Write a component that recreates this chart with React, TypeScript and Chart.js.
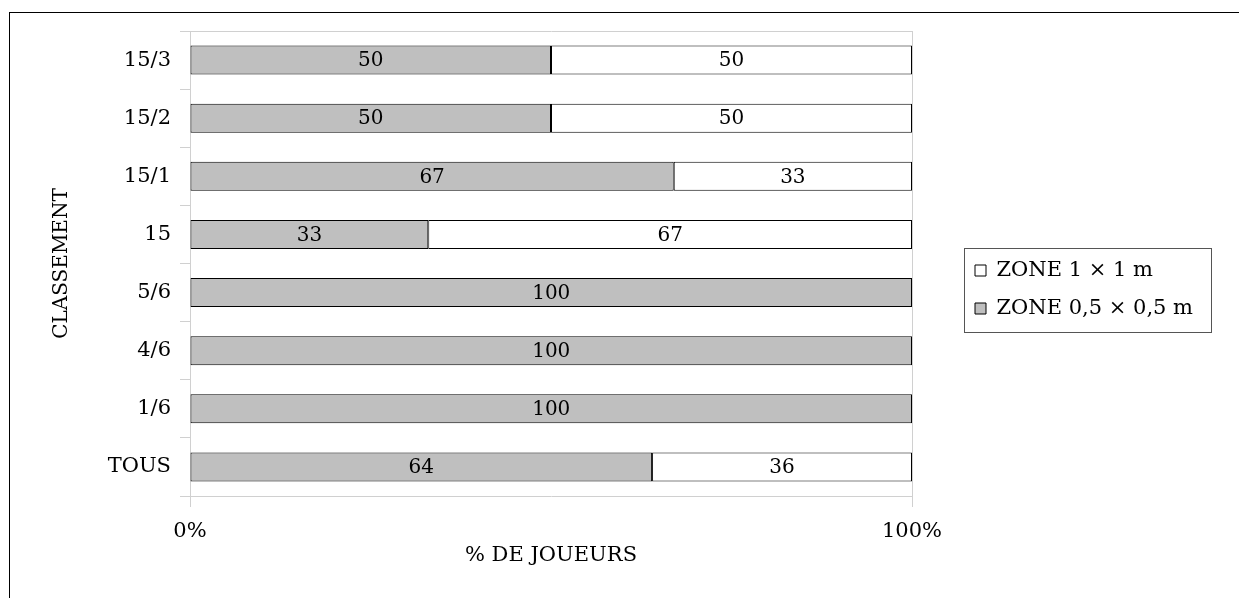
import React, { useEffect, useRef } from 'react';
import { Chart, registerables } from 'chart.js';

Chart.register(...registerables);

const categories = ['15/3', '15/2', '15/1', '15', '5/6', '4/6', '1/6', 'TOUS'];
const smallZoneValues = [50, 50, 67, 33, 100, 100, 100, 64];
const largeZoneValues = [50, 50, 33, 67, 0, 0, 0, 36];
const seriesNames = ['ZONE 0,5 × 0,5 m', 'ZONE 1 × 1 m'];
const xTickValues = [0, 100];
const xTitle = '% DE JOUEURS';
const yTitle = 'CLASSEMENT';

const FONT = "'DejaVu Serif', serif";
const GRID = '#d0d0d0';
const PLOT_RIGHT = 912;

const barLabels = {
  id: 'barLabels',
  afterDatasetsDraw(chart: any) {
    const ctx = chart.ctx;
    ctx.save();
    ctx.font = `20px ${FONT}`;
    ctx.fillStyle = '#000';
    ctx.textAlign = 'center';
    ctx.textBaseline = 'middle';
    chart.data.datasets.forEach((ds: any, di: number) => {
      const meta = chart.getDatasetMeta(di);
      meta.data.forEach((el: any, i: number) => {
        const v = ds.data[i];
        if (!v) return;
        const { x, base, y } = el.getProps(['x', 'base', 'y'], true);
        ctx.fillText(String(v), (x + base) / 2, y + 1);
      });
    });
    ctx.restore();
  },
};

const legendPlace = {
  id: 'legendPlace',
  afterLayout(chart: any) {
    const l = chart.legend;
    if (!l) return;
    const pad = l.options.labels.padding;
    const w = l.width;
    const h = l.height;
    l.left = 975 - pad;
    l.right = l.left + w;
    l.top = 260 - pad;
    l.bottom = l.top + h;
  },
  afterDraw(chart: any) {
    const ctx = chart.ctx;
    ctx.save();
    ctx.strokeStyle = '#555';
    ctx.lineWidth = 1;
    ctx.strokeRect(964.5, 248.5, 247, 84);
    ctx.restore();
  },
};

export default function App() {
  const ref = useRef<HTMLCanvasElement>(null);

  useEffect(() => {
    if (!ref.current) return;
    const chart = new Chart(ref.current, {
      type: 'bar',
      data: {
        labels: categories,
        datasets: [
          {
            label: seriesNames[0],
            data: smallZoneValues,
            backgroundColor: '#bfbfbf',
            borderColor: '#000',
            borderWidth: 1,
            borderSkipped: false,
            barPercentage: 0.5,
            categoryPercentage: 1,
          },
          {
            label: seriesNames[1],
            data: largeZoneValues,
            backgroundColor: '#ffffff',
            borderColor: '#000',
            borderWidth: 1,
            borderSkipped: false,
            barPercentage: 0.5,
            categoryPercentage: 1,
          },
        ],
      },
      options: {
        indexAxis: 'y',
        responsive: false,
        animation: false,
        layout: { padding: { left: 0, top: 31, right: 60, bottom: 0 } },
        plugins: {
          tooltip: { enabled: false },
          legend: {
            display: true,
            position: 'right',
            align: 'start',
            reverse: true,
            labels: {
              boxWidth: 11,
              boxHeight: 11,
              padding: 17,
              color: '#000',
              font: { family: FONT, size: 21 },
            },
          },
        },
        scales: {
          x: {
            stacked: true,
            min: 0,
            max: 100,
            afterBuildTicks(scale: any) {
              scale.ticks = xTickValues.map((v) => ({ value: v }));
            },
            afterFit(scale: any) {
              scale.height = 102;
            },
            grid: { color: GRID, tickLength: 11, lineWidth: 1 },
            border: { color: GRID },
            ticks: {
              color: '#000',
              padding: 12,
              font: { family: FONT, size: 21 },
              callback: (v: any) => `${v}%`,
            },
            title: {
              display: true,
              text: xTitle,
              color: '#000',
              font: { family: FONT, size: 21 },
              padding: { top: 0, bottom: 30 },
            },
          },
          y: {
            stacked: true,
            afterFit(scale: any) {
              scale.width = 190;
            },
            grid: {
              offset: true,
              drawOnChartArea: true,
              color: (c: any) => (c.index === 0 || c.index === categories.length ? GRID : 'rgba(0,0,0,0)'),
              tickColor: GRID,
              tickLength: 10,
            },
            border: { color: GRID },
            ticks: {
              color: '#000',
              padding: 9,
              font: { family: FONT, size: 21 },
            },
            title: {
              display: true,
              text: yTitle,
              color: '#000',
              font: { family: FONT, size: 20 },
              padding: { top: 50, bottom: 0 },
            },
          },
        },
      },
      plugins: [barLabels, legendPlace],
    } as any);
    const diff = chart.chartArea.right - PLOT_RIGHT;
    if (Math.abs(diff) > 0.01) {
      (chart.options.layout as any).padding.right += diff;
      chart.update();
    }
    return () => chart.destroy();
  }, []);

  return (
    <div style={{ position: 'fixed', left: 0, top: 0, width: 1239, height: 598, overflow: 'hidden', background: '#fff' }}>
      <div style={{ position: 'absolute', left: 9, top: 12, width: 1300, height: 700, border: '1px solid #000' }} />
      <canvas ref={ref} width={1239} height={598} style={{ position: 'absolute', left: 0, top: 0 }} />
    </div>
  );
}
